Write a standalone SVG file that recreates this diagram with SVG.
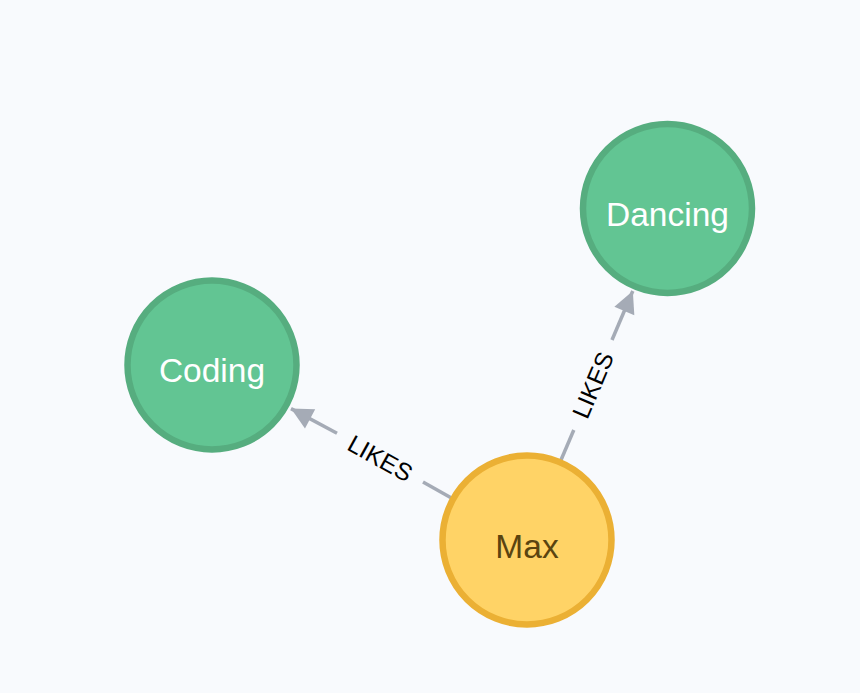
<svg xmlns="http://www.w3.org/2000/svg" width="860" height="693" viewBox="0 0 860 693">
<defs>
<style>
.edge{stroke:#A5ABB6;stroke-width:3.5;fill:none}
.elabel{font-family:"Liberation Sans",Arial,sans-serif;font-size:24.5px;fill:#000;text-anchor:middle;dominant-baseline:central}
.green{fill:#62C593;stroke:#56AD7F;stroke-width:6.5}
.yellow{fill:#FFD366;stroke:#EBB034;stroke-width:6.5}
.nlabel{font-family:"Liberation Sans",Arial,sans-serif;font-size:33.5px;text-anchor:middle}
</style>
<marker id="arrow" markerUnits="userSpaceOnUse" markerWidth="26" markerHeight="24" viewBox="-22 -11 24 22" refX="0" refY="0" orient="auto">
<path d="M0,0 L-20,-10 L-20,10 Z" fill="#A5ABB6"/>
</marker>
</defs>
<rect width="860" height="693" fill="#F8FAFD"/>
<g id="connectors">
<g id="edge-max-coding">
<line class="edge" x1="451" y1="497.7" x2="423" y2="482"/>
<line class="edge" x1="337" y1="433.3" x2="291" y2="408.6" marker-end="url(#arrow)"/>
<text class="elabel" transform="translate(380.2 458.4) rotate(29.05)">LIKES</text>
</g>
<g id="edge-max-dancing">
<line class="edge" x1="561" y1="460" x2="573.8" y2="430"/>
<line class="edge" x1="612" y1="340" x2="632.8" y2="291" marker-end="url(#arrow)"/>
<text class="elabel" transform="translate(592.9 385) rotate(-67)">LIKES</text>
</g>
</g>
<g id="node-coding">
<circle class="green" cx="212" cy="365" r="84.5"/>
<text class="nlabel" x="212" y="382" fill="#FFFFFF">Coding</text>
</g>
<g id="node-dancing">
<circle class="green" cx="667.5" cy="208.5" r="84.5"/>
<text class="nlabel" x="667.5" y="226" fill="#FFFFFF">Dancing</text>
</g>
<g id="node-max">
<circle class="yellow" cx="527" cy="540" r="84.5"/>
<text class="nlabel" x="527" y="558" fill="#5A4410">Max</text>
</g>
</svg>
